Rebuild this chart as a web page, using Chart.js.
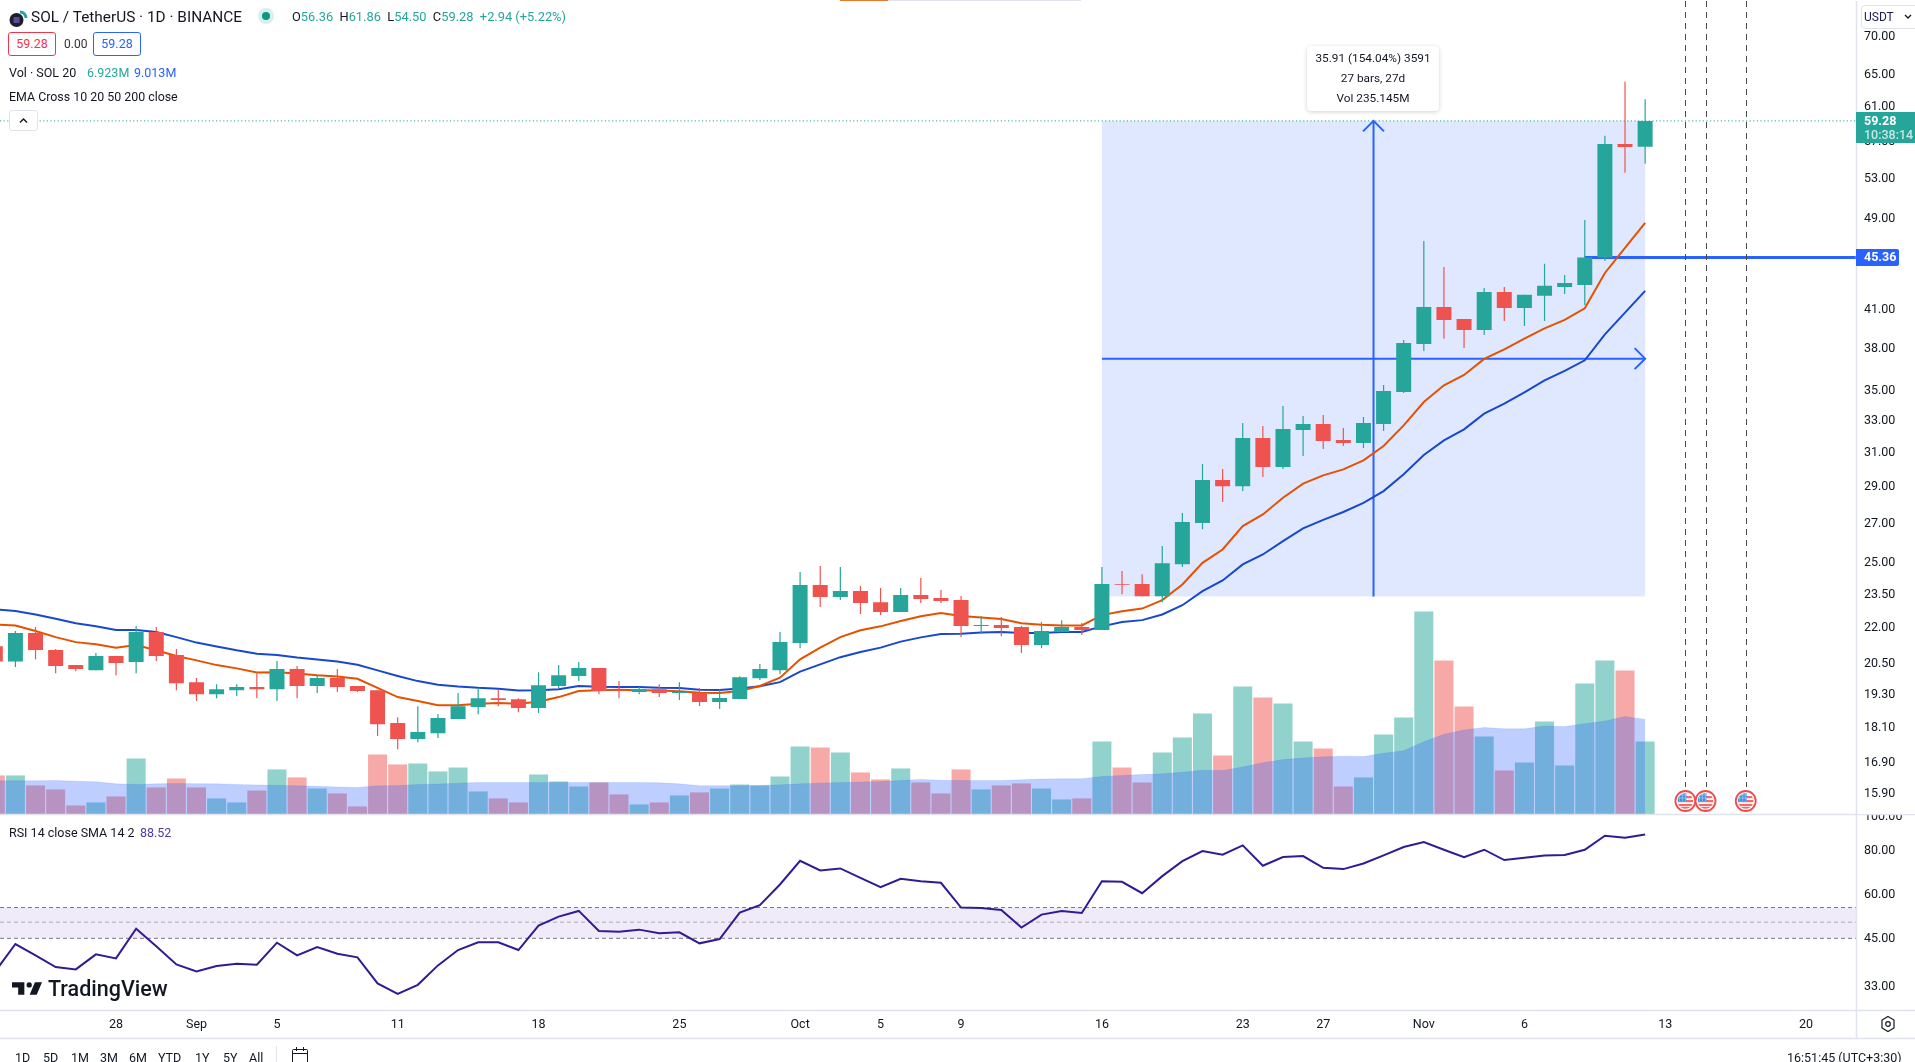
<!DOCTYPE html>
<html><head><meta charset="utf-8">
<script src="https://cdn.jsdelivr.net/npm/chart.js@4/dist/chart.umd.min.js"></script>
<style>
html,body{margin:0;padding:0;background:#fff;width:1915px;height:1062px;overflow:hidden}
canvas{position:absolute;left:0;top:1px}
.t{position:absolute;white-space:nowrap;font:12.5px Roboto,sans-serif;color:#131722;line-height:16px}
.box{position:absolute;box-sizing:border-box;border-radius:3px;background:#fff;text-align:center;font:12.5px/22px Roboto,sans-serif}
</style></head><body>
<canvas id="c" width="1915" height="1062"></canvas>

<div style="position:absolute;left:840px;top:0;width:48px;height:1px;background:#E8792F"></div>
<div style="position:absolute;left:888px;top:0;width:193px;height:1px;background:#E0E3EB"></div>

<svg style="position:absolute;left:8px;top:7px" width="22" height="22" viewBox="0 0 22 22"><circle cx="8.5" cy="13" r="7" fill="#1c1f2b"/><rect x="5.5" y="10" width="6" height="6" fill="#5a4a9c"/><path d="M12 5a6 6 0 0 1 6 6" fill="none" stroke="#26A69A" stroke-width="3"/></svg>
<div class="t" style="left:31px;top:9px;font-size:15.4px">SOL / TetherUS · 1D · BINANCE</div>
<svg style="position:absolute;left:258px;top:8px" width="16" height="16"><circle cx="8" cy="8" r="8" fill="#26A69A" fill-opacity=".18"/><circle cx="8" cy="8" r="4" fill="#089981"/></svg>
<div class="t" style="left:292px;top:9px;font-size:12.85px">O<span style="color:#26A69A">56.36</span>&nbsp;&nbsp;H<span style="color:#26A69A">61.86</span>&nbsp;&nbsp;L<span style="color:#26A69A">54.50</span>&nbsp;&nbsp;C<span style="color:#26A69A">59.28</span>&nbsp;&nbsp;<span style="color:#26A69A">+2.94 (+5.22%)</span></div>

<div class="box" style="left:8px;top:32px;width:48px;height:24px;border:1px solid #F23645;color:#F23645">59.28</div>
<div class="t" style="left:64px;top:36px;font-size:12px;color:#333">0.00</div>
<div class="box" style="left:93px;top:32px;width:48px;height:24px;border:1px solid #2962FF;color:#2962FF">59.28</div>

<div class="t" style="left:9px;top:65px">Vol · SOL 20</div>
<div class="t" style="left:87px;top:65px;color:#26A69A">6.923M</div>
<div class="t" style="left:134px;top:65px;color:#2962FF">9.013M</div>
<div class="t" style="left:9px;top:89px;font-size:12.4px">EMA Cross 10 20 50 200 close</div>
<div style="position:absolute;left:9px;top:110px;width:29px;height:21px;box-sizing:border-box;border:1px solid #E0E3EB;border-radius:3px;background:#fff">
<svg width="27" height="19" style="display:block"><path d="M10 11.5l3.5-3.5 3.5 3.5" fill="none" stroke="#131722" stroke-width="1.4"/></svg></div>

<div class="t" style="left:9px;top:825px">RSI 14 close SMA 14 2</div>
<div class="t" style="left:140px;top:825px;color:#4A3AA8">88.52</div>

<svg style="position:absolute;left:12px;top:981px" width="30" height="15" viewBox="0 6 34 14"><path d="M14 6H0v6h7v8h7V6zM28 20h-8l6-14h8L28 20z" fill="#131722"/><circle cx="19.5" cy="9" r="3" fill="#131722"/></svg>
<div class="t" style="left:48px;top:977px;font-size:21.5px;font-weight:500;line-height:24px">TradingView</div>

<div class="box" style="left:1307px;top:46px;width:132px;height:65px;border-radius:4px;box-shadow:0 1px 4px rgba(0,0,0,.18);color:#131722;font-size:11.8px;line-height:20px;padding-top:2px">35.91 (154.04%) 3591<br>27 bars, 27d<br>Vol 235.145M</div>

<div style="position:absolute;left:1858px;top:804px;width:57px;height:10px;background:#fff"></div>

<div style="position:absolute;left:1856px;top:112px;width:59px;height:31px;background:#26A69A"></div>
<div class="t" style="left:1864px;top:113px;color:#fff;font-weight:700;font-size:12.5px">59.28</div>
<div class="t" style="left:1864px;top:127px;color:#C4E8E3;font-size:12.5px;font-weight:500">10:38:14</div>
<div style="position:absolute;left:1856px;top:249px;width:43px;height:17px;background:#2962FF;border-radius:0 2px 2px 0"></div>
<div class="t" style="left:1864px;top:249px;color:#fff;font-weight:700;font-size:12.5px">45.36</div>

<div style="position:absolute;left:1861px;top:5px;width:60px;height:24px;box-sizing:border-box;border:1px solid #E0E3EB;border-radius:4px;background:#fff"></div>
<div class="t" style="left:1864px;top:9px;color:#1c1a52;font-size:12px">USDT</div>
<svg style="position:absolute;left:1904px;top:13px" width="9" height="8"><path d="M1 2l3 3 3-3" fill="none" stroke="#131722" stroke-width="1.3"/></svg>

<svg style="position:absolute;left:1880px;top:1015px" width="16" height="18" viewBox="0 0 16 18"><path d="M8 1.5l6 3.5v8l-6 3.5-6-3.5v-8z" fill="none" stroke="#131722" stroke-width="1.2"/><circle cx="8" cy="9" r="2.3" fill="none" stroke="#131722" stroke-width="1.2"/></svg>

<div class="t" style="left:15px;top:1050px">1D</div>
<div class="t" style="left:43px;top:1050px">5D</div>
<div class="t" style="left:71px;top:1050px">1M</div>
<div class="t" style="left:100px;top:1050px">3M</div>
<div class="t" style="left:129px;top:1050px">6M</div>
<div class="t" style="left:158px;top:1050px">YTD</div>
<div class="t" style="left:195px;top:1050px">1Y</div>
<div class="t" style="left:223px;top:1050px">5Y</div>
<div class="t" style="left:249px;top:1050px">All</div>
<div style="position:absolute;left:276px;top:1046px;width:1px;height:16px;background:#E0E3EB"></div>
<svg style="position:absolute;left:290px;top:1046px" width="20" height="16"><rect x="2.5" y="3.5" width="15" height="14" rx="1" fill="none" stroke="#131722"/><path d="M2.5 7.5h15M6.5 1v4M13.5 1v4" stroke="#131722" fill="none"/></svg>
<div class="t" style="left:1787px;top:1050px">16:51:45 (UTC+3:30)</div>

<script>
// Candles, Aug 22 (index 0) to Nov 12 (index 82)
const opens = [21.20,20.57,21.75,21.04,20.43,20.23,20.80,20.55,21.80,20.84,19.76,19.30,19.45,19.57,19.49,20.27,19.61,19.92,19.61,19.45,18.24,17.68,17.88,18.38,18.82,19.15,19.11,18.78,19.61,20.00,20.31,19.45,19.38,19.49,19.34,19.34,19.01,19.12,19.91,20.23,21.33,23.90,23.34,23.62,23.11,22.67,23.43,23.30,23.21,22.05,22.10,22.01,21.25,21.80,22.01,21.88,23.94,23.94,23.38,24.89,26.98,29.35,29.00,31.87,30.11,32.37,32.75,31.74,31.55,32.75,34.87,38.31,41.19,40.23,39.37,42.41,41.11,42.09,42.83,43.00,45.36,56.67,56.36];
const highs = [21.35,21.84,22.01,21.08,20.43,20.92,20.80,22.05,22.01,21.08,19.92,19.68,19.68,20.11,20.59,20.39,20.00,20.27,19.61,19.45,18.45,18.85,18.56,19.34,19.53,19.49,19.15,20.15,20.43,20.55,20.31,19.80,19.57,19.68,19.76,19.53,19.49,19.99,20.47,21.80,24.51,24.80,24.76,23.85,23.76,23.76,24.23,23.66,23.39,22.49,22.45,22.05,22.23,22.31,22.18,24.76,24.56,24.41,25.79,27.51,30.28,29.99,32.81,32.62,33.93,33.27,33.33,32.50,33.20,35.35,38.61,46.87,44.54,40.23,42.75,42.83,42.17,44.81,43.85,48.83,57.57,63.99,61.86];
const lows = [20.45,20.35,20.67,20.11,20.19,20.23,20.03,20.11,20.59,19.45,19.04,19.15,19.23,19.15,19.04,19.15,19.34,19.38,19.38,17.78,17.33,17.57,17.71,18.38,18.56,18.85,18.63,18.60,19.53,19.80,19.30,19.15,19.30,19.19,19.08,18.86,18.75,19.12,19.84,20.07,21.12,22.89,23.21,22.58,22.53,22.67,23.07,23.07,21.58,21.71,21.62,20.92,21.12,21.80,21.67,21.88,23.47,23.38,23.11,24.75,26.66,28.11,28.72,29.52,29.99,30.76,31.19,31.37,31.25,32.30,34.80,37.79,38.69,38.01,38.99,40.07,39.68,40.07,42.25,41.35,45.07,53.55,54.50];
const closes = [20.57,21.75,21.04,20.39,20.27,20.80,20.51,21.80,20.80,19.72,19.30,19.49,19.57,19.49,20.27,19.61,19.92,19.57,19.42,18.20,17.68,17.92,18.42,18.85,19.15,19.08,18.78,19.64,20.03,20.31,19.42,19.43,19.49,19.34,19.38,19.01,19.16,19.95,20.27,21.37,23.90,23.34,23.62,23.07,22.67,23.43,23.25,23.16,22.05,22.10,21.97,21.25,21.84,22.01,21.88,23.94,23.91,23.38,24.94,27.03,29.35,29.00,31.87,30.11,32.43,32.75,31.68,31.55,32.81,34.94,38.38,41.19,40.15,39.37,42.41,41.11,42.17,42.92,43.17,45.36,56.67,56.34,59.28];
// Volume in millions and its 20-period average
const volumes = [3.70,3.70,2.75,2.37,0.85,1.14,1.71,5.31,2.56,3.41,2.56,1.52,1.14,2.27,4.27,3.51,2.46,1.99,0.76,5.69,4.74,4.83,4.08,4.45,2.18,1.52,1.14,3.79,3.13,2.65,3.03,1.90,0.95,1.14,1.80,2.09,2.46,2.84,2.75,3.60,6.45,6.35,5.88,3.98,3.32,4.36,3.03,1.99,4.27,2.37,2.75,2.94,2.46,1.42,1.52,6.92,4.45,3.03,5.88,7.30,9.57,5.59,12.13,11.09,10.52,6.92,6.26,2.65,3.51,7.58,9.19,19.24,14.60,10.24,7.39,4.17,4.93,8.82,4.64,12.42,14.60,13.65,6.92];
const volumeAverage = [3.20,3.20,3.20,3.22,3.15,3.10,2.90,2.85,2.90,2.94,2.92,2.90,2.85,2.80,2.76,2.72,2.68,2.60,2.56,2.72,2.75,2.84,2.88,2.97,3.03,3.03,3.03,3.03,3.03,3.03,3.03,3.03,3.03,3.00,2.90,2.72,2.72,2.72,2.75,2.81,2.90,2.97,3.03,3.08,3.13,3.22,3.32,3.25,3.22,3.22,3.22,3.28,3.35,3.38,3.38,3.60,3.70,3.78,3.85,4.00,4.20,4.17,4.50,4.90,5.20,5.35,5.47,5.53,5.50,5.81,6.05,6.90,7.60,8.00,8.25,8.12,8.12,8.38,8.34,8.60,8.85,9.29,9.01];
// EMA 10 and EMA 20
const emaFast = [22.12,22.08,21.84,21.58,21.37,21.28,21.14,21.25,21.03,20.80,20.62,20.43,20.30,20.14,20.15,20.10,20.03,19.98,19.89,19.54,19.19,19.04,18.89,18.89,18.94,18.97,18.94,19.02,19.19,19.42,19.45,19.47,19.45,19.44,19.41,19.35,19.34,19.42,19.61,19.93,20.66,21.14,21.58,21.87,22.04,22.27,22.48,22.62,22.49,22.43,22.36,22.17,22.11,22.08,22.08,22.53,22.70,22.82,23.20,23.92,24.96,25.62,26.82,27.44,28.35,29.14,29.62,29.97,30.50,31.37,32.66,34.19,35.33,36.05,37.20,37.91,38.71,39.50,40.15,41.08,44.02,46.23,48.55];
const emaSlow = [22.79,22.71,22.56,22.37,22.17,22.04,21.88,21.88,21.80,21.58,21.35,21.19,21.03,20.89,20.84,20.74,20.66,20.57,20.44,20.22,20.00,19.80,19.66,19.59,19.54,19.51,19.44,19.45,19.49,19.61,19.58,19.57,19.57,19.54,19.53,19.47,19.46,19.52,19.60,19.76,20.17,20.46,20.75,20.96,21.14,21.39,21.57,21.71,21.72,21.78,21.80,21.75,21.75,21.80,21.80,22.04,22.23,22.31,22.56,22.97,23.61,24.11,24.88,25.37,26.04,26.70,27.15,27.57,28.07,28.72,29.68,30.82,31.72,32.41,33.42,34.08,34.85,35.67,36.34,37.10,39.04,40.73,42.50];
const rsiValues = [36.27,43.36,40.27,37.31,36.75,40.53,39.49,47.93,42.71,37.96,36.27,37.56,38.13,37.88,43.74,40.27,42.52,40.71,39.74,33.53,31.34,33.24,37.72,41.69,43.84,43.84,41.69,48.88,51.85,53.80,47.21,47.00,47.62,46.49,46.80,43.55,44.80,53.22,55.83,63.91,74.60,70.03,70.95,66.75,62.80,66.32,65.31,64.61,54.99,54.87,54.15,48.25,52.53,53.80,53.10,65.31,65.03,60.39,67.49,74.44,79.46,77.58,82.46,72.20,76.41,76.91,71.26,70.65,73.31,77.24,81.57,84.28,80.16,76.41,80.16,74.93,76.08,77.24,77.41,80.16,87.84,86.69,88.52];

// Axis ticks
const priceTicks = [70,65,61,57,53,49,45,41,38,35,33,31,29,27,25,23.5,22,20.5,19.3,18.1,16.9,15.9];
const rsiTicks = [100,80,60,45,33];
const timeTickDays = [6,10,14,20,27,34,40,44,48,55,62,66,71,76,83,90];
const timeTickLabels = ['28','Sep','5','11','18','25','Oct','5','9','16','23','27','Nov','6','13','20'];

// Drawing tools and events
const measureDays = [55,82];
const measurePrices = [23.37,59.28];
const horizontalRay = {fromDay:79, price:45.36};
const lastPrice = 59.28;
const eventDays = [84,85,87];
const rsiBand = [45,50,55];

const GREEN='#26A69A', RED='#EF5350', BLUE='#2962FF';
const up = closes.map((c,i)=>c>=opens[i]);
const candleColors = up.map(u=>u?GREEN:RED);
const volumeColors = up.map(u=>u?'rgba(38,166,154,.5)':'rgba(239,83,80,.5)');
const xy = arr => arr.map((v,i)=>({x:i,y:v}));
const range = (a,b) => a.map((v,i)=>({x:i,y:[v,b[i]]}));

function arrowHead(ctx,x,y,dx,dy,s){
  ctx.beginPath();
  ctx.moveTo(x+dx*s+dy*s, y+dy*s+dx*s);
  ctx.lineTo(x,y);
  ctx.lineTo(x+dx*s-dy*s, y+dy*s-dx*s);
  ctx.stroke();
}
function flag(ctx,x,y){
  ctx.save();
  ctx.beginPath();ctx.arc(x,y,10,0,Math.PI*2);ctx.fillStyle='#fff';ctx.fill();
  ctx.lineWidth=1.8;ctx.strokeStyle='#F04A4A';ctx.stroke();
  ctx.beginPath();ctx.arc(x,y,7.8,0,Math.PI*2);ctx.clip();
  ctx.fillStyle='#F46A6A';
  [-5,-1,3].forEach(o=>ctx.fillRect(x-8,y+o,16,2.2));
  ctx.fillRect(x-8,y+6,16,3);
  ctx.fillStyle='#3E8EE0';ctx.fillRect(x-8,y-8,9,8);
  ctx.strokeStyle='rgba(255,255,255,.6)';ctx.lineWidth=.6;
  for(let k=-6;k<1;k+=3){ctx.beginPath();ctx.moveTo(x+k,y-8);ctx.lineTo(x+k,y);ctx.stroke();}
  for(let k=-6;k<0;k+=3){ctx.beginPath();ctx.moveTo(x-8,y+k);ctx.lineTo(x+1,y+k);ctx.stroke();}
  ctx.restore();
}

const overlay = {
  id:'overlay',
  beforeDatasetsDraw(ch){
    const {ctx,chartArea:a,scales:{x,y,rsi}}=ch;
    ctx.save();
    // RSI band
    const b0=rsi.getPixelForValue(rsiBand[0]), b1=rsi.getPixelForValue(rsiBand[1]), b2=rsi.getPixelForValue(rsiBand[2]);
    ctx.fillStyle='rgba(126,87,194,.12)';ctx.fillRect(a.left,b2,a.right-a.left,b0-b2);
    ctx.lineWidth=1;ctx.setLineDash([4,3]);
    [[b0,'#787B86'],[b2,'#787B86'],[b1,'#A8ABB5']].forEach(([p,c])=>{ctx.strokeStyle=c;ctx.beginPath();ctx.moveTo(a.left,p);ctx.lineTo(a.right,p);ctx.stroke();});
    // price measure box
    const x0=x.getPixelForValue(measureDays[0]), x1=x.getPixelForValue(measureDays[1]);
    const yTop=y.getPixelForValue(measurePrices[1]), yBot=y.getPixelForValue(measurePrices[0]);
    ctx.setLineDash([]);
    ctx.fillStyle='rgba(41,98,255,.15)';ctx.fillRect(x0,yTop,x1-x0,yBot-yTop);
    // last price dotted
    ctx.setLineDash([1.2,2.4]);ctx.strokeStyle=GREEN;ctx.lineWidth=1;
    const lp=y.getPixelForValue(lastPrice);
    ctx.beginPath();ctx.moveTo(a.left,lp);ctx.lineTo(a.right,lp);ctx.stroke();
    ctx.setLineDash([]);
    // arrows
    ctx.strokeStyle=BLUE;ctx.lineWidth=2;
    const xm=x.getPixelForValue((measureDays[0]+measureDays[1])/2), ym=(yTop+yBot)/2;
    ctx.beginPath();ctx.moveTo(xm,yBot);ctx.lineTo(xm,yTop);ctx.stroke();
    arrowHead(ctx,xm,yTop,0,1,10.5);
    ctx.beginPath();ctx.moveTo(x0,ym);ctx.lineTo(x1,ym);ctx.stroke();
    arrowHead(ctx,x1,ym,-1,0,10.5);
    // horizontal ray
    ctx.lineWidth=3;
    const rp=Math.round(y.getPixelForValue(horizontalRay.price))-.5;
    ctx.beginPath();ctx.moveTo(x.getPixelForValue(horizontalRay.fromDay),rp);ctx.lineTo(a.right,rp);ctx.stroke();
    // event lines
    ctx.strokeStyle='#4A4A4A';ctx.lineWidth=1;ctx.setLineDash([6,5]);
    eventDays.forEach(d=>{const p=Math.round(x.getPixelForValue(d))+.5;ctx.beginPath();ctx.moveTo(p,0);ctx.lineTo(p,786);ctx.stroke();});
    ctx.restore();
  },
  afterDatasetsDraw(ch){
    const {ctx,scales:{x}}=ch;
    eventDays.forEach(d=>flag(ctx,x.getPixelForValue(d),800));
  },
  afterDraw(ch){
    const {ctx}=ch;
    ctx.save();ctx.strokeStyle='#E0E3EB';ctx.lineWidth=1.5;
    [[0,813.5,1915,813.5],[0,1009.5,1915,1009.5],[0,1037.5,1915,1037.5],[1856.5,0,1856.5,1037.5]].forEach(([a,b,c,d])=>{ctx.beginPath();ctx.moveTo(a,b);ctx.lineTo(c,d);ctx.stroke();});
    ctx.restore();
  }
};

const tickFont={family:'Roboto',size:12.5};
const fmt=v=>Number(v).toFixed(2);
const yAxisBase={
  position:'right',stack:'panes',
  grid:{display:false,drawTicks:false},border:{display:false},
  afterFit:s=>{s.width=59;s.paddingTop=0;s.paddingBottom=0;}
};

new Chart(document.getElementById('c'),{
  type:'bar',
  plugins:[overlay],
  data:{datasets:[
    {type:'bar',label:'Volume',data:xy(volumes),yAxisID:'vol',backgroundColor:volumeColors,grouped:false,barThickness:19,maxBarThickness:19,inflateAmount:0,order:7},
    {type:'line',label:'Vol MA',data:xy(volumeAverage),yAxisID:'vol',borderColor:'rgba(41,98,255,.12)',backgroundColor:'rgba(41,98,255,.31)',borderWidth:1,fill:'origin',pointRadius:0,tension:0,order:6},
    {type:'line',label:'EMA 20',data:xy(emaSlow),yAxisID:'y',borderColor:'#1848CC',borderWidth:2,pointRadius:0,tension:0,fill:false,order:5},
    {type:'line',label:'EMA 10',data:xy(emaFast),yAxisID:'y',borderColor:'#E65100',borderWidth:2,pointRadius:0,tension:0,fill:false,order:4},
    {type:'bar',label:'Wicks',data:range(lows,highs),yAxisID:'y',backgroundColor:candleColors,grouped:false,barThickness:1.2,maxBarThickness:1.2,inflateAmount:0,order:3},
    {type:'bar',label:'Bodies',data:range(opens,closes),yAxisID:'y',backgroundColor:candleColors,grouped:false,barThickness:15,maxBarThickness:15,inflateAmount:0,order:2},
    {type:'line',label:'RSI',data:xy(rsiValues),yAxisID:'rsi',borderColor:'#311B92',borderWidth:2,pointRadius:0,tension:0,fill:false,order:1}
  ]},
  options:{
    responsive:false,devicePixelRatio:1,animation:false,events:[],
    layout:{autoPadding:false,padding:{left:0,right:0,top:0,bottom:24}},
    plugins:{legend:{display:false},tooltip:{enabled:false},title:{display:false}},
    scales:{
      x:{type:'linear',position:'bottom',min:0.2336,max:92.48,offset:false,
        grid:{display:false,drawTicks:false,offset:false},border:{display:false},
        afterBuildTicks:s=>{s.ticks=timeTickDays.map(v=>({value:v}));},
        afterFit:s=>{s.height=28;s.paddingLeft=0;s.paddingRight=0;},
        ticks:{autoSkip:false,maxRotation:0,padding:6,color:'#131722',font:tickFont,
          callback:(v)=>timeTickLabels[timeTickDays.indexOf(v)]}},
      y:{...yAxisBase,type:'logarithmic',min:15.22,max:74.96,stackWeight:814.5,
        afterBuildTicks:s=>{s.ticks=priceTicks.map(v=>({value:v}));},
        ticks:{autoSkip:false,padding:8,labelOffset:1,color:'#131722',font:tickFont,callback:fmt}},
      rsi:{...yAxisBase,type:'logarithmic',min:28.02,max:100.2,stackWeight:195.5,
        afterBuildTicks:s=>{s.ticks=rsiTicks.map(v=>({value:v}));},
        ticks:{autoSkip:false,padding:8,labelOffset:1,color:'#131722',font:tickFont,callback:fmt}},
      vol:{type:'linear',display:false,position:'right',min:-18.63,max:77.11}
    }
  }
});
</script>
</body></html>
